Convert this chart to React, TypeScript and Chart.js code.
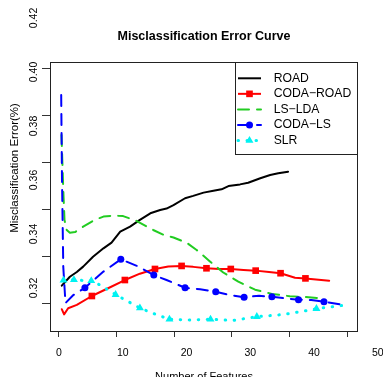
import React, { useEffect, useRef } from "react";
import { Chart, registerables } from "chart.js";

Chart.register(...registerables);

// Axis label values (number of features / misclassification error)
const xLabelValues = [0, 10, 20, 30, 40, 50];
const xTickLabels = ["0", "10", "20", "30", "40", "50"];
const yLabelValues = [0.32, 0.34, 0.36, 0.38, 0.4, 0.42];
const yTickLabels = ["0.32", "0.34", "0.36", "0.38", "0.40", "0.42"];

const seriesNames = ["ROAD", "CODA\u2212ROAD", "LS\u2212LDA", "CODA\u2212LS", "SLR"];

// ROAD
const roadX = [0.6, 2.0, 3.2, 4.3, 6.0, 7.8, 9.2, 10.7, 12.4, 14.1, 15.9, 17.6, 18.7, 19.9, 21.9, 23.3, 25.1, 26.8, 28.2, 29.4, 31.4, 32.8, 34.9, 36.6, 38.0, 39.7];
const roadY = [0.3275, 0.3313, 0.3333, 0.3356, 0.3398, 0.3434, 0.3458, 0.3505, 0.3526, 0.3555, 0.3583, 0.3597, 0.3603, 0.3618, 0.3647, 0.3657, 0.3671, 0.3679, 0.3685, 0.3699, 0.3706, 0.3713, 0.3732, 0.3746, 0.3753, 0.376];

// CODA-ROAD
const codaRoadX = [0.6, 1.0, 1.7, 3.2, 5.8, 8.6, 11.5, 14.1, 16.7, 19.0, 21.3, 23.3, 25.6, 27.8, 29.8, 32.0, 34.1, 36.4, 38.4, 40.9, 42.7, 46.8];
const codaRoadY = [0.3175, 0.3153, 0.3179, 0.3193, 0.3231, 0.3264, 0.3299, 0.3326, 0.3346, 0.3357, 0.3359, 0.3355, 0.3349, 0.3346, 0.3346, 0.3342, 0.3339, 0.3333, 0.3328, 0.3309, 0.3306, 0.3296];
const codaRoadMarkX = [5.8, 11.5, 16.7, 21.3, 25.6, 29.8, 34.1, 38.4, 42.7];

// LS-LDA
const lsLdaX = [0.55, 0.86, 1.07, 1.45, 2.0, 2.9, 4.3, 6.3, 7.8, 9.5, 11.2, 13.4, 16.4, 18.4, 19.9, 22.2, 23.9, 26.2, 28.5, 31.1, 34.0, 36.9, 40.0, 42.6, 45.5];
const lsLdaY = [0.3916, 0.3682, 0.3555, 0.3512, 0.35, 0.3503, 0.3526, 0.3555, 0.3569, 0.3573, 0.3571, 0.3552, 0.3512, 0.3489, 0.348, 0.3457, 0.3427, 0.3378, 0.3331, 0.3292, 0.3258, 0.324, 0.323, 0.3227, 0.3221];

// CODA-LS
const codaLsX = [0.5, 0.64, 0.86, 1.24, 2.6, 4.6, 7.8, 10.8, 13.6, 16.5, 18.7, 21.9, 24.5, 27.2, 29.7, 32.1, 34.7, 36.9, 39.3, 41.5, 43.7, 45.9, 49.5];
const codaLsY = [0.4086, 0.3725, 0.3355, 0.3201, 0.3235, 0.3266, 0.3335, 0.3387, 0.3359, 0.332, 0.3299, 0.3266, 0.326, 0.3249, 0.3235, 0.3226, 0.3232, 0.3228, 0.3221, 0.3215, 0.3214, 0.3207, 0.3192];
const codaLsMarkX = [4.6, 10.8, 16.5, 21.9, 27.2, 32.1, 36.9, 41.5, 45.9];

// SLR
const slrX = [0.9, 2.7, 4.3, 5.7, 7.2, 9.9, 12.1, 14.1, 16.4, 19.2, 22.6, 26.3, 30.2, 34.3, 38.8, 41.8, 44.6, 49.5];
const slrY = [0.3298, 0.33, 0.3297, 0.3296, 0.3278, 0.3237, 0.3207, 0.318, 0.3157, 0.3132, 0.3129, 0.3132, 0.3127, 0.3143, 0.3152, 0.3164, 0.3177, 0.3192];
const slrMarkX = [0.9, 2.7, 5.7, 9.9, 14.1, 19.2, 26.3, 34.3, 44.6];

const RED = "#FF0000";
const GREEN = "#22CC22";
const BLUE = "#0000FF";
const CYAN = "#00F2F2";
const FONT = '"Liberation Sans", Arial, Helvetica, sans-serif';

const DASHED = [11, 8];
const DOTTED = [0.5, 8.5];

type Pt = { x: number; y: number };
const points = (xs: number[], ys: number[]): Pt[] => xs.map((x, i) => ({ x, y: ys[i] }));
const marked = (xs: number[], ys: number[], marks: number[]): Pt[] =>
  marks.map((m) => ({ x: m, y: ys[xs.indexOf(m)] }));

// legend entries: line colour, dash, width, marker
const legendStyles = [
  { color: "#000000", dash: [] as number[], width: 2, marker: "" },
  { color: RED, dash: [] as number[], width: 2, marker: "rect" },
  { color: GREEN, dash: DASHED, width: 2, marker: "" },
  { color: BLUE, dash: DASHED, width: 2, marker: "circle" },
  { color: CYAN, dash: DOTTED, width: 3, marker: "triangle" },
];

function drawMarker(ctx: CanvasRenderingContext2D, kind: string, x: number, y: number, color: string) {
  ctx.save();
  ctx.fillStyle = color;
  ctx.setLineDash([]);
  ctx.beginPath();
  if (kind === "rect") {
    const s = 4.7 / Math.SQRT2;
    ctx.rect(x - s, y - s, 2 * s, 2 * s);
  } else if (kind === "circle") {
    ctx.arc(x, y, 3.5, 0, Math.PI * 2);
  } else if (kind === "triangle") {
    const r = 4.6;
    ctx.moveTo(x, y - r);
    ctx.lineTo(x + r * Math.sin((2 * Math.PI) / 3), y - r * Math.cos((2 * Math.PI) / 3));
    ctx.lineTo(x + r * Math.sin((4 * Math.PI) / 3), y - r * Math.cos((4 * Math.PI) / 3));
    ctx.closePath();
  }
  ctx.fill();
  ctx.restore();
}

const decorations = {
  id: "decorations",
  afterDraw(chart: any) {
    const { ctx, chartArea: a, scales } = chart;
    ctx.save();

    // plot frame
    ctx.strokeStyle = "#222";
    ctx.lineWidth = 1;
    ctx.setLineDash([]);
    ctx.strokeRect(a.left + 0.5, a.top + 0.5, a.right - a.left - 1, a.bottom - a.top);

    ctx.fillStyle = "#000";

    // x tick labels
    ctx.font = `10.5px ${FONT}`;
    ctx.textAlign = "center";
    ctx.textBaseline = "alphabetic";
    xLabelValues.forEach((v, i) => {
      ctx.fillText(xTickLabels[i], scales.xLab.getPixelForValue(v), a.bottom + 24.5);
    });

    // y tick labels, rotated
    yLabelValues.forEach((v, i) => {
      ctx.save();
      ctx.translate(a.left - 13, scales.yLab.getPixelForValue(v));
      ctx.rotate(-Math.PI / 2);
      ctx.fillText(yTickLabels[i], 0, 0);
      ctx.restore();
    });

    // title
    const cx = (a.left + a.right) / 2;
    ctx.font = `bold 12.5px ${FONT}`;
    ctx.fillText("Misclassification Error Curve", cx, 39.5);

    // axis titles
    ctx.font = `11px ${FONT}`;
    ctx.fillText("Number of Features", cx, a.bottom + 49);
    ctx.save();
    ctx.font = `11.5px ${FONT}`;
    ctx.translate(18, 168);
    ctx.rotate(-Math.PI / 2);
    ctx.fillText("Misclassification Error(%)", 0, 0);
    ctx.restore();

    // legend (top right corner of the plot)
    const lw = 123;
    const lh = 92;
    const lx = a.right - lw;
    const ly = a.top;
    ctx.fillStyle = "#fff";
    ctx.fillRect(lx, ly, lw, lh);
    ctx.strokeStyle = "#222";
    ctx.lineWidth = 1;
    ctx.strokeRect(lx + 0.5, ly + 0.5, lw - 1, lh);
    ctx.font = `12.2px ${FONT}`;
    ctx.textAlign = "left";
    ctx.textBaseline = "middle";
    seriesNames.forEach((name, i) => {
      const st = legendStyles[i];
      const y = ly + 16.3 + i * 15.55;
      ctx.save();
      ctx.strokeStyle = st.color;
      ctx.lineWidth = st.width;
      ctx.lineCap = st.dash.length ? "round" : "butt";
      ctx.setLineDash(st.dash);
      ctx.beginPath();
      ctx.moveTo(lx + 3, y);
      ctx.lineTo(lx + 26, y);
      ctx.stroke();
      ctx.restore();
      if (st.marker) drawMarker(ctx, st.marker, lx + 14.5, y, st.color);
      ctx.fillStyle = "#000";
      ctx.fillText(name, lx + 38.7, y);
    });

    ctx.restore();
  },
};

export default function App() {
  const canvasRef = useRef<HTMLCanvasElement | null>(null);

  useEffect(() => {
    if (!canvasRef.current) return;
    const lineBase = {
      showLine: true,
      pointRadius: 0,
      pointHoverRadius: 0,
      tension: 0,
      fill: false,
      borderCapStyle: "round",
      borderJoinStyle: "round",
    };
    const markBase = { showLine: false, pointBorderWidth: 0, pointHoverRadius: 0 };

    const chart = new Chart(canvasRef.current, {
      type: "scatter",
      data: {
        datasets: [
          { ...lineBase, label: seriesNames[0], data: points(roadX, roadY), borderColor: "#000", borderWidth: 2, order: 9 },
          { ...lineBase, label: seriesNames[1], data: points(codaRoadX, codaRoadY), borderColor: RED, borderWidth: 2, order: 8 },
          { ...markBase, label: seriesNames[1], data: marked(codaRoadX, codaRoadY, codaRoadMarkX), pointStyle: "rect", pointRadius: 4.7, pointBackgroundColor: RED, order: 7 },
          { ...lineBase, label: seriesNames[2], data: points(lsLdaX, lsLdaY), borderColor: GREEN, borderWidth: 2, borderDash: DASHED, order: 6 },
          { ...lineBase, label: seriesNames[3], data: points(codaLsX, codaLsY), borderColor: BLUE, borderWidth: 2, borderDash: DASHED, order: 5 },
          { ...markBase, label: seriesNames[3], data: marked(codaLsX, codaLsY, codaLsMarkX), pointStyle: "circle", pointRadius: 3.5, pointBackgroundColor: BLUE, order: 4 },
          { ...lineBase, label: seriesNames[4], data: points(slrX, slrY), borderColor: CYAN, borderWidth: 3, borderDash: DOTTED, order: 3 },
          { ...markBase, label: seriesNames[4], data: marked(slrX, slrY, slrMarkX), pointStyle: "triangle", pointRadius: 4.6, pointBackgroundColor: CYAN, order: 2 },
        ] as any,
      },
      options: {
        responsive: false,
        animation: false,
        events: [],
        layout: { padding: { top: 62, right: 25, left: 0, bottom: 0 } },
        plugins: { legend: { display: false }, tooltip: { enabled: false }, title: { display: false } },
        scales: {
          x: {
            type: "linear",
            position: "bottom",
            min: -1.434,
            max: 51.78,
            ticks: { display: false, stepSize: 10, includeBounds: false },
            grid: { display: true, drawOnChartArea: false, drawTicks: true, tickLength: 6, color: "#333", lineWidth: 1 },
            border: { display: false },
            afterFit: (s: any) => {
              s.height = 46;
            },
          },
          y: {
            type: "linear",
            position: "left",
            min: 0.30821,
            max: 0.42268,
            ticks: { display: false, stepSize: 0.02, includeBounds: false },
            grid: { display: true, drawOnChartArea: false, drawTicks: true, tickLength: 8, color: "#333", lineWidth: 1 },
            border: { display: false },
            afterFit: (s: any) => {
              s.width = 50;
            },
          },
          // scales used to place the axis label text
          xLab: { type: "linear", axis: "x", position: "bottom", display: false, min: -1.412, max: 46.9 },
          yLab: { type: "linear", axis: "y", position: "left", display: false, min: 0.30407, max: 0.4037 },
        },
      } as any,
      plugins: [decorations],
    });
    return () => chart.destroy();
  }, []);

  return (
    <div style={{ position: "fixed", left: 0, top: 0, width: 383, height: 377, background: "#fff" }}>
      <canvas ref={canvasRef} width={383} height={377} style={{ display: "block" }} />
    </div>
  );
}
